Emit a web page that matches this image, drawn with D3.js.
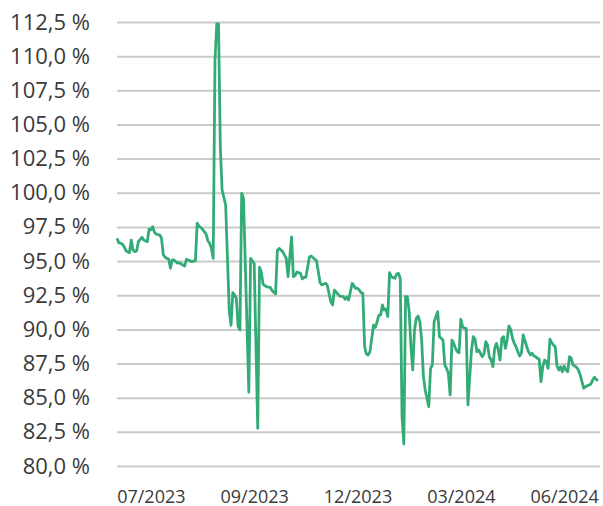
<!DOCTYPE html>
<html>
<head>
<meta charset="utf-8">
<script src="https://cdn.jsdelivr.net/npm/d3@7"></script>
<style>
  body { margin: 0; background: #ffffff; }
  svg { display: block; }
  .tick text { font-family: "Open Sans", sans-serif; fill: #3a3a3a; }
</style>
</head>
<body>
<svg width="603" height="506"></svg>
<script>
// trading day number of each point
var days = [0,1,3,4,5,6,7,8,9,10,11,12,14,15,17,18,19,20,21,22,24,25,26,27,28,29,30,31,32,33,
	34,35,36,38,39,40,42,43,44,45,46,48,49,50,51,52,53,54,55,56,57,58,59,61,63,64,65,66,67,68,
	69,70,71,74,75,76,77,79,80,81,82,84,86,87,89,90,91,93,95,96,98,99,100,101,103,104,105,106,108,109,
	111,112,114,115,117,118,120,121,122,124,125,127,128,129,130,132,134,135,136,137,138,139,140,141,142,144,
	145,146,147,148,149,150,151,152,153,154,156,157,158,159,160,161,162,163,164,165,166,167,168,169,
	170,171,172,173,175,176,177,178,179,180,181,183,184,185,186,187,188,189,190,191,192,193,194,195,
	196,197,199,200,201,202,203,205,206,207,208,209,210,211,212,213,214,215,216,217,218,219,220,221,
	222,223,224,225,226,227,228,229,230,231,232,233,234,235,236,237,238,239,240,241,242,243,244,245,
	246,247,248,249,250,251,252,253,254,255,256,257,258,259,260,261,262,263,265,266,267,268,269,270];

// value in percent
var values = [96.67,96.35,96.25,96.05,95.76,95.69,95.61,96.54,95.81,95.69,95.74,96.42,96.74,96.54,96.42,97.33,97.28,97.52,97.11,96.98,
	96.91,96.67,95.45,95.28,95.2,95.15,94.47,95.08,95.08,94.96,94.84,94.89,94.79,94.64,95.13,95.08,94.96,95.01,95.01,97.77,
	97.57,97.33,97.15,96.98,96.49,96.3,95.94,95.2,109.7,112.36,112.36,103.3,100.2,99.1,91.4,90.3,92.69,92.5,92.27,90.2,
	89.96,99.96,99.6,85.4,95.2,95.0,94.84,82.76,94.55,94.2,93.3,93.12,93.08,92.85,92.59,95.76,95.93,95.69,95.2,93.86,
	96.77,93.86,93.95,94.2,94.1,93.7,93.81,93.81,95.3,95.37,95.13,95.03,93.42,93.25,93.37,93.25,92.03,91.79,92.88,92.59,
	92.44,92.4,92.2,92.35,92.15,93.37,93.0,93.0,92.88,92.69,92.64,88.73,88.2,88.13,88.37,90.32,90.15,90.56,91.05,91.05,
	91.79,91.42,91.47,90.93,94.15,93.86,93.74,94.05,94.1,93.74,83.61,81.61,92.4,92.4,91.3,88.73,87.03,89.96,90.81,90.98,
	90.56,89.22,86.54,85.56,84.34,87.15,87.39,90.56,90.93,91.3,89.47,89.22,87.39,87.15,86.78,85.2,89.22,88.98,88.61,88.37,
	88.29,90.74,90.2,90.08,90.08,84.47,88.49,89.47,89.28,88.37,88.49,88.0,88.2,89.1,88.86,88.0,87.76,87.27,88.61,88.98,
	88.49,87.76,89.35,89.47,88.61,89.22,90.25,90.0,89.35,88.98,88.73,88.37,88.05,88.25,89.59,89.17,88.73,88.37,88.13,88.25,
	88.05,88.0,87.88,87.81,86.17,87.27,87.76,87.64,87.15,89.28,89.03,88.86,88.73,87.32,87.03,87.27,86.9,87.32,87.03,86.9,
	88.0,87.88,87.39,87.32,87.22,87.03,86.66,86.17,85.69,85.81,85.93,86.0,86.29,86.49,86.34,86.24];

var yTicks = [80,82.5,85,87.5,90,92.5,95,97.5,100,102.5,105,107.5,110,112.5];
var xTickDays = [19,77,135,193,251];
var xTickLabels = ["07/2023","09/2023","12/2023","03/2024","06/2024"];

function drawChart(){
	var svg = d3.select("svg");
	var left = 117, right = 598, top = 22, bottom = 466;

	var x = d3.scaleLinear().domain([0, 270]).range([left, right]);
	var y = d3.scaleLinear().domain([80, 112.5]).range([bottom, top]);

	var de = d3.formatLocale({decimal: ",", thousands: ".", grouping: [3], currency: ["", " €"]});
	var fmt = de.format(".1f");

	// grid + y labels
	var gy = svg.append("g")
		.attr("transform", "translate(" + left + ",0)")
		.call(d3.axisLeft(y)
			.tickValues(yTicks)
			.tickSize(-(600 - left))
			.tickPadding(27)
			.tickFormat(function(d){ return fmt(d) + " %"; }));
	gy.select(".domain").remove();
	gy.selectAll(".tick line")
		.style("stroke", "#cacaca")
		.style("stroke-width", 2);
	gy.selectAll(".tick text")
		.style("font-size", "22px");

	// x labels
	var gx = svg.append("g")
		.attr("transform", "translate(0," + bottom + ")")
		.call(d3.axisBottom(x)
			.tickValues(xTickDays)
			.tickSize(0)
			.tickPadding(24)
			.tickFormat(function(d, i){ return xTickLabels[i]; }));
	gx.select(".domain").remove();
	gx.selectAll(".tick text")
		.style("font-size", "18px");

	var line = d3.line()
		.x(function(d, i){ return x(days[i]); })
		.y(function(d){ return y(d); });

	svg.append("path")
		.datum(values)
		.attr("d", line)
		.style("fill", "none")
		.style("stroke", "#33ab77")
		.style("stroke-width", 2.8)
		.style("stroke-linejoin", "round");
}

drawChart();
</script>
</body>
</html>
